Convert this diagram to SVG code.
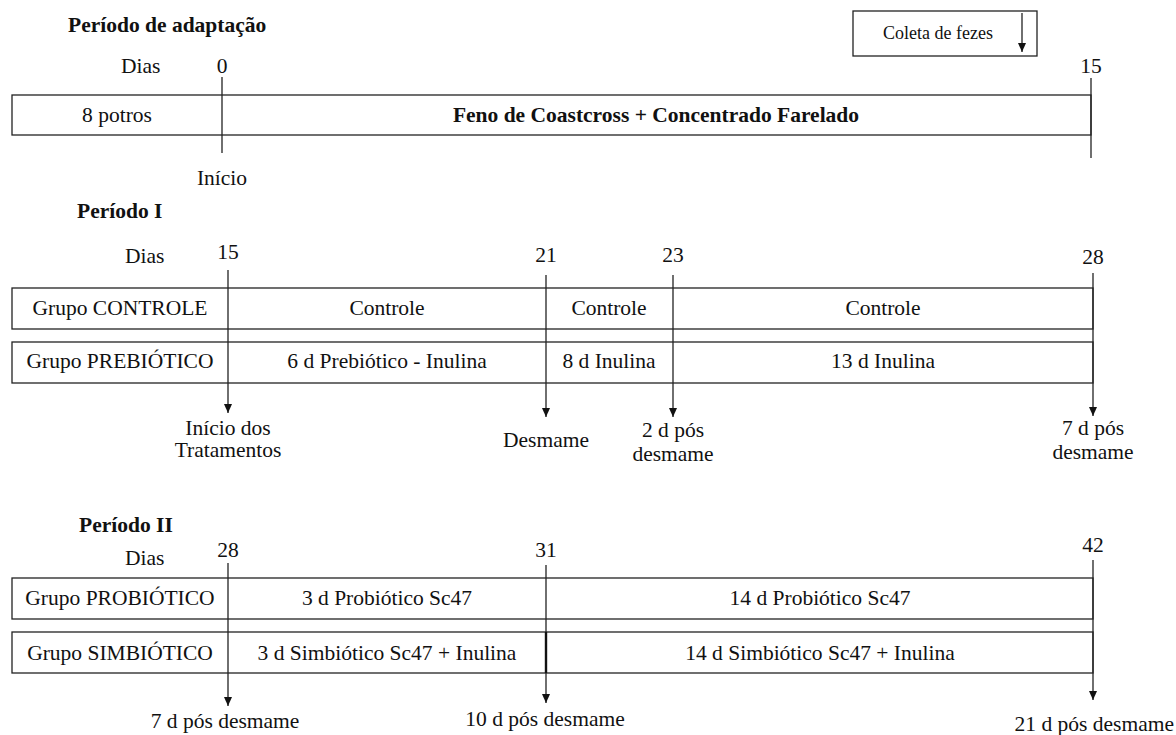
<svg xmlns="http://www.w3.org/2000/svg" width="1176" height="735" viewBox="0 0 1176 735">
<style>
text{font-family:"Liberation Serif","Times New Roman",serif;font-size:21.5px;fill:#111}
.b{font-weight:bold}
.c{text-anchor:middle}
.e{text-anchor:end}
.s{font-size:18px}
.box{fill:#fff;stroke:#222;stroke-width:1.3}
.ln{stroke:#222;stroke-width:1.3;fill:none}
.thick{stroke:#111;stroke-width:2.4}
</style>
<defs>
<marker id="ah" viewBox="0 0 9 8" refX="9" refY="4" markerWidth="9" markerHeight="8" markerUnits="userSpaceOnUse" orient="auto">
<path d="M0,0 L9,4 L0,8 z" fill="#111"/>
</marker>
</defs>
<rect width="1176" height="735" fill="#fff"/>

<!-- Período de adaptação -->
<g id="adapt-title"><text class="b" x="68" y="32">Período de adaptação</text></g>
<g id="adapt-days"><text x="121" y="73">Dias</text><text class="c" x="222" y="73">0</text><text class="c" x="1091" y="73">15</text></g>
<g id="legend">
<rect class="box" x="853" y="11" width="184" height="45"/>
<text class="s c" x="938" y="39">Coleta de fezes</text>
</g>
<g id="adapt-row">
<rect class="box" x="12" y="95" width="1079" height="40"/>
<text class="c" x="117" y="122">8 potros</text>
<text class="b c" x="656" y="122">Feno de Coastcross + Concentrado Farelado</text>
</g>
<g id="adapt-start"><text class="c" x="222" y="185">Início</text></g>

<!-- Período I -->
<g id="p1-title"><text class="b" x="77" y="218">Período I</text></g>
<g id="p1-days"><text x="125" y="263">Dias</text><text class="c" x="228" y="259">15</text><text class="c" x="546" y="262">21</text><text class="c" x="673" y="262">23</text><text class="c" x="1093" y="264">28</text></g>
<g id="p1-controle">
<rect class="box" x="12" y="288" width="1081" height="41"/>
<text class="c" x="120" y="315">Grupo CONTROLE</text>
<text class="c" x="387" y="315">Controle</text>
<text class="c" x="609" y="315">Controle</text>
<text class="c" x="883" y="315">Controle</text>
</g>
<g id="p1-prebiotico">
<rect class="box" x="12" y="342" width="1081" height="41"/>
<text class="c" x="120" y="368">Grupo PREBIÓTICO</text>
<text class="c" x="387" y="368">6 d Prebiótico - Inulina</text>
<text class="c" x="609" y="368">8 d Inulina</text>
<text class="c" x="883" y="368">13 d Inulina</text>
</g>
<g id="p1-labels">
<text class="c" x="228" y="435">Início dos</text>
<text class="c" x="228" y="457">Tratamentos</text>
<text class="c" x="546" y="447">Desmame</text>
<text class="c" x="673" y="437">2 d pós</text>
<text class="c" x="673" y="461">desmame</text>
<text class="c" x="1093" y="435">7 d pós</text>
<text class="c" x="1093" y="459">desmame</text>
</g>

<!-- Período II -->
<g id="p2-title"><text class="b" x="79" y="532">Período II</text></g>
<g id="p2-days"><text x="125" y="565">Dias</text><text class="c" x="228" y="557">28</text><text class="c" x="546" y="557">31</text><text class="c" x="1093" y="552">42</text></g>
<g id="p2-probiotico">
<rect class="box" x="12" y="578" width="1081" height="41"/>
<text class="c" x="120" y="605">Grupo PROBIÓTICO</text>
<text class="c" x="387" y="605">3 d Probiótico Sc47</text>
<text class="c" x="820" y="605">14 d Probiótico Sc47</text>
</g>
<g id="p2-simbiotico">
<rect class="box" x="12" y="632" width="1081" height="41"/>
<text class="c" x="120" y="660">Grupo SIMBIÓTICO</text>
<text class="c" x="387" y="660">3 d Simbiótico Sc47 + Inulina</text>
<text class="c" x="820" y="660">14 d Simbiótico Sc47 + Inulina</text>
</g>
<g id="p2-labels">
<text class="c" x="225" y="728">7 d pós desmame</text>
<text class="c" x="545" y="726">10 d pós desmame</text>
<text class="e" x="1174" y="731">21 d pós desmame</text>
</g>

<g id="connectors">
<line class="ln" x1="1022" y1="13" x2="1022" y2="52" marker-end="url(#ah)"/>
<line class="ln" x1="222" y1="77" x2="222" y2="153"/>
<line class="ln" x1="1091" y1="78" x2="1091" y2="158"/>
<line class="ln" x1="228" y1="270" x2="228" y2="413" marker-end="url(#ah)"/>
<line class="ln" x1="546" y1="275" x2="546" y2="417" marker-end="url(#ah)"/>
<line class="ln" x1="673" y1="275" x2="673" y2="417" marker-end="url(#ah)"/>
<line class="ln" x1="1093" y1="273" x2="1093" y2="416" marker-end="url(#ah)"/>
<line class="ln" x1="228" y1="563" x2="228" y2="706" marker-end="url(#ah)"/>
<line class="ln" x1="546" y1="565" x2="546" y2="703" marker-end="url(#ah)"/>
<line class="thick" x1="546" y1="632" x2="546" y2="673"/>
<line class="ln" x1="1093" y1="560" x2="1093" y2="700" marker-end="url(#ah)"/>
</g>
</svg>
